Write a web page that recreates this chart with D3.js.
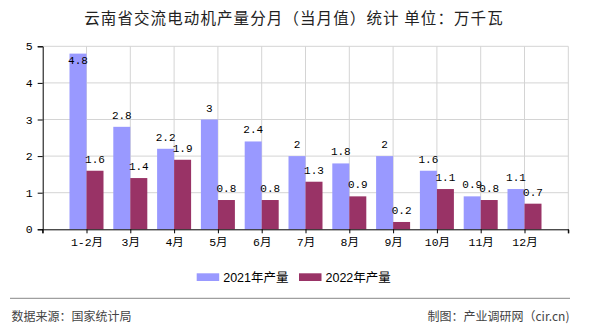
<!DOCTYPE html>
<html><head><meta charset="utf-8">
<script src="https://cdn.jsdelivr.net/npm/d3@7"></script>
<style>
body{margin:0;background:#fff;}
svg{display:block;}
</style></head>
<body>
<script>
const title = "云南省交流电动机产量分月（当月值）统计 单位：万千瓦";
const categories = ["1-2月","3月","4月","5月","6月","7月","8月","9月","10月","11月","12月"];
const seriesNames = ["2021年产量","2022年产量"];
const values2021 = [4.8,2.8,2.2,3,2.4,2,1.8,2,1.6,0.9,1.1];
const values2022 = [1.6,1.4,1.9,0.8,0.8,1.3,0.9,0.2,1.1,0.8,0.7];
const yTicks = [0,1,2,3,4,5];
const colors = ["#9999ff","#993366"];
const sourceText = "数据来源：国家统计局";
const creditText = "制图：产业调研网（cir.cn)";

const W = 590, H = 330;
const pLeft = 42.7, pRight = 568.3, pTop = 46.3, pBottom = 229.3;
const barW = 17;

const svg = d3.select("body").append("svg").attr("width", W).attr("height", H);

const x = d3.scalePoint().domain(categories).range([pLeft, pRight]).padding(1);
const y = d3.scaleLinear().domain([0,5]).range([pBottom, pTop]);

// title
svg.append("text").attr("x", 294).attr("y", 23.5).attr("text-anchor","middle")
  .style("font-family","'Noto Sans CJK SC', sans-serif").style("font-size","15.5px")
  .style("letter-spacing","1.1px").style("white-space","pre")
  .style("fill","#222").text(title);

// horizontal grid
svg.append("g").selectAll("line").data(yTicks.filter(d=>d>0)).join("line")
  .attr("x1", pLeft).attr("x2", pRight).attr("y1", d=>y(d)).attr("y2", d=>y(d))
  .attr("stroke","#d4d4d4").attr("stroke-width",1);
// vertical grid
const vx = categories.map(c=>x(c)).concat([pRight]);
svg.append("g").selectAll("line").data(vx).join("line")
  .attr("x1", d=>d).attr("x2", d=>d).attr("y1", pTop).attr("y2", pBottom)
  .attr("stroke","#d4d4d4").attr("stroke-width",1);

// bars
const series = [values2021, values2022];
series.forEach((vals, si) => {
  svg.append("g").selectAll("rect").data(vals).join("rect")
    .attr("x", (d,i)=> x(categories[i]) + (si===0 ? -barW : 0))
    .attr("width", barW)
    .attr("y", d=>y(d))
    .attr("height", d=>pBottom - y(d))
    .attr("fill", colors[si]);
});

// labels
series.forEach((vals, si) => {
  svg.append("g").selectAll("text").data(vals).join("text")
    .attr("x", (d,i)=> x(categories[i]) + (si===0 ? -barW/2 : barW/2))
    .attr("y", d=> Math.max(y(d) - 8, pTop + 18))
    .attr("text-anchor","middle")
    .style("font-family","'Liberation Mono', monospace").style("font-size","11px")
    .style("fill","#000").text(d=>d);
});

// y axis
const yAxis = svg.append("g").attr("transform",`translate(${pLeft},0)`)
  .call(d3.axisLeft(y).tickValues(yTicks).tickSize(5).tickPadding(5).tickFormat(d3.format("d")));
yAxis.select(".domain").attr("stroke","#000");
yAxis.selectAll("text").style("font-family","'Liberation Mono', monospace").style("font-size","11.5px").style("fill","#000");

// x axis
const xAxis = svg.append("g").attr("transform",`translate(0,${pBottom})`)
  .call(d3.axisBottom(x).tickSize(4).tickPadding(5).tickSizeOuter(4));
xAxis.select(".domain").attr("stroke","#000");
xAxis.selectAll("text").style("font-family","'Liberation Mono', 'Noto Sans CJK SC', monospace").style("font-size","11.5px").style("fill","#000");
xAxis.selectAll("line.endtick").data(x.range()).join("line").attr("class","endtick")
  .attr("x1",d=>d).attr("x2",d=>d).attr("y1",0).attr("y2",4).attr("stroke","#000");

// legend
const legend = svg.append("g");
const legendX = [196.7, 299];
seriesNames.forEach((n, i) => {
  legend.append("rect").attr("x", legendX[i]).attr("y", 273.3).attr("width", 22.5).attr("height", 7.7).attr("fill", colors[i]);
  legend.append("text").attr("x", legendX[i] + 26.5).attr("y", 282)
    .style("font-family","'Liberation Sans', 'Noto Sans CJK SC', sans-serif").style("font-size","12.5px")
    .style("fill","#000").text(n);
});

// footer
svg.append("line").attr("x1",10).attr("x2",570).attr("y1",298.3).attr("y2",298.3).attr("stroke","#888").attr("stroke-width",1);
svg.append("text").attr("x",11.5).attr("y",320.5)
  .style("font-family","'Noto Sans CJK SC', sans-serif").style("font-size","12px").style("fill","#444").text(sourceText);
svg.append("text").attr("x",569.5).attr("y",320.5).attr("text-anchor","end")
  .style("font-family","'Noto Sans CJK SC', sans-serif").style("font-size","12px").style("fill","#444").text(creditText);
</script>
</body></html>
